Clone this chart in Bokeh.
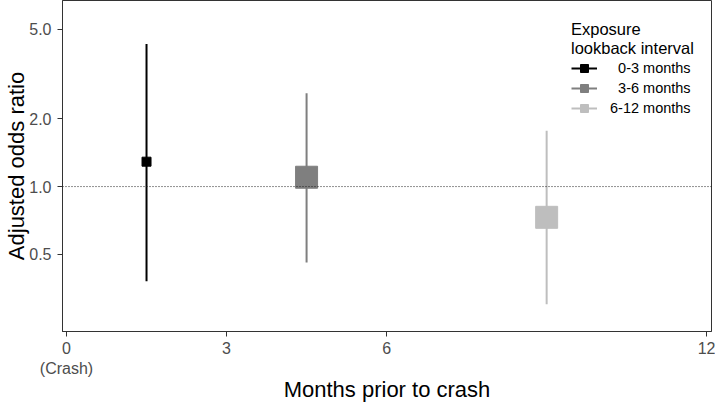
from bokeh.plotting import figure
from bokeh.models import (FixedTicker, PrintfTickFormatter, Span, Legend,
                          LegendItem, ColumnDataSource)
from bokeh.embed import file_html
from bokeh.resources import INLINE

# ---- data ----
intervals = ["0-3 months", "3-6 months", "6-12 months"]
months_mid = [1.5, 4.5, 9.0]
odds_ratio = [1.29, 1.10, 0.73]
ci_low = [0.38, 0.46, 0.30]
ci_high = [4.3, 2.6, 1.77]
x_ticks = [0, 3, 6, 12]
y_ticks = [0.5, 1.0, 2.0, 5.0]
x_tick_labels = {0: "0\n(Crash)"}
x_title = "Months prior to crash"
y_title = "Adjusted odds ratio"
legend_title = "Exposure\nlookback interval"

# ---- styles / layout ----
colors = ["#000000", "#7F7F7F", "#BEBEBE"]
marker_sizes = [9, 22, 22]
FONT = "Liberation Sans"
W, H = 715, 404
BL, BR, BT, BB = 62, 4, 0, 73

p = figure(width=W, height=H, y_axis_type="log",
           x_range=(-0.075, 12.09), y_range=(0.227, 6.71),
           output_backend="svg", toolbar_location=None,
           min_border_top=BT, min_border_left=BL, min_border_right=BR,
           min_border_bottom=BB)

src = ColumnDataSource(dict(x=months_mid, y=odds_ratio, lo=ci_low, hi=ci_high,
                            color=colors, size=marker_sizes))

p.segment(x0="x", y0="lo", x1="x", y1="hi", line_color="color",
          line_width=2, source=src)
p.scatter(x="x", y="y", marker="square", size="size", fill_color="color",
          line_color="color", source=src)

p.add_layout(Span(location=1.0, dimension="width", line_color="#222222",
                  line_width=1, line_dash="1 2"))

# grid / outline
p.xgrid.visible = False
p.ygrid.visible = False
p.outline_line_color = "#333333"
p.outline_line_width = 1
p.background_fill_color = "white"
p.border_fill_color = "white"

# axes
for ax in (p.xaxis[0], p.yaxis[0]):
    ax.axis_line_color = "#333333"
    ax.major_tick_line_color = "#333333"
    ax.major_tick_out = 5
    ax.major_tick_in = 0
    ax.minor_tick_line_color = None
    ax.major_label_text_font = FONT
    ax.major_label_text_font_size = "16px"
    ax.major_label_text_color = "#4D4D4D"
    ax.axis_label_text_font = FONT
    ax.axis_label_text_font_size = "22px"
    ax.axis_label_text_font_style = "normal"
    ax.axis_label_text_color = "black"

p.xaxis.ticker = FixedTicker(ticks=x_ticks)
p.xaxis.major_label_overrides = x_tick_labels
p.xaxis.major_label_standoff = 3
p.xaxis.axis_label = x_title
p.xaxis.axis_label_standoff = -3

p.yaxis.ticker = FixedTicker(ticks=y_ticks)
p.yaxis.formatter = PrintfTickFormatter(format="%.1f")
p.yaxis.major_label_standoff = 6
p.yaxis.axis_label = y_title
p.yaxis.axis_label_standoff = -3

# legend (dummy renderers with small squares)
maxlen = max(len(s) for s in intervals)
items = []
for lab, c in zip(intervals, colors):
    ln = p.line(x=[float("nan")], y=[float("nan")], line_color=c, line_width=2)
    sq = p.scatter(x=[float("nan")], y=[float("nan")], marker="square", size=7,
                   fill_color=c, line_color=c)
    items.append(LegendItem(label="\u2007" * (maxlen - len(lab)) + lab,
                            renderers=[ln, sq]))

legend = Legend(items=items, location=(509, 213),
                title=legend_title,
                title_text_font=FONT, title_text_font_size="16.5px",
                title_text_font_style="normal", title_text_color="black",
                title_standoff=-5,
                label_text_font=FONT, label_text_font_size="14.5px",
                label_text_color="black",
                glyph_width=26, glyph_height=20, label_height=20,
                label_standoff=13, spacing=0, padding=0, margin=0,
                border_line_alpha=0, background_fill_alpha=0)
p.add_layout(legend)

open("out.html", "w").write(file_html(p, INLINE))
